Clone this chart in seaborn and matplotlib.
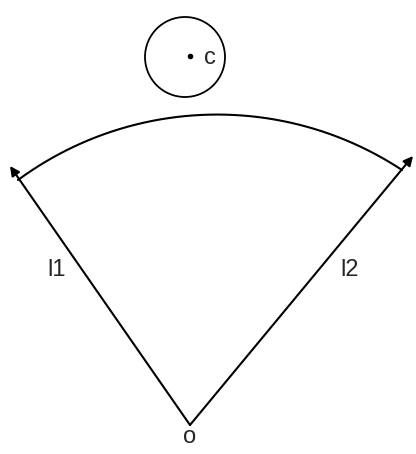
import numpy as np
import pandas as pd
import seaborn as sns
import matplotlib.pyplot as plt
from matplotlib.patches import Circle

sns.set_style("white")
plt.rcParams['font.family'] = ['Liberation Sans', 'DejaVu Sans']

# diagram geometry, in pixel coordinates of the reference
origin = (190, 425)
l1_tip = (10, 166)
l2_tip = (413, 156)
arc_pts = [(18, 180), (200, 115), (402, 170)]
circle_center = (185, 57)
circle_radius = 40
dot = (190, 56)
labels = ["l1", "l2", "o", "c"]
label_pos = [(57, 270), (350, 270), (190, 437), (210, 58)]

# circle through three arc points
(x1, y1), (x2, y2), (x3, y3) = arc_pts
A = np.array([[x2 - x1, y2 - y1], [x3 - x1, y3 - y1]]) * 2
b = np.array([x2**2 - x1**2 + y2**2 - y1**2, x3**2 - x1**2 + y3**2 - y1**2])
cx, cy = np.linalg.solve(A, b)
r = np.hypot(x1 - cx, y1 - cy)
a0 = np.arctan2(y1 - cy, x1 - cx)
a1 = np.arctan2(y3 - cy, x3 - cx)
t = np.linspace(a0, a1, 200)
arc = pd.DataFrame({"x": cx + r * np.cos(t), "y": cy + r * np.sin(t)})

fig = plt.figure(figsize=(4.16, 4.54), dpi=100)
ax = fig.add_axes([0, 0, 1, 1])
sns.lineplot(data=arc, x="x", y="y", sort=False, color="black", lw=1.5, ax=ax)

for tip in (l1_tip, l2_tip):
    ax.annotate("", xy=tip, xytext=origin,
                arrowprops=dict(arrowstyle="-|>", color="black", lw=1.5,
                                mutation_scale=14, shrinkA=0, shrinkB=0))

ax.add_patch(Circle(circle_center, circle_radius, fill=False, ec="black", lw=1.3))
ax.plot(*dot, "o", color="black", ms=3)
for lab, (x, y) in zip(labels, label_pos):
    ax.text(x, y, lab, fontsize=17, ha="center", va="center")

ax.set_xlim(0, 416)
ax.set_ylim(454, 0)
ax.set_axis_off()
fig.savefig("out.png", dpi=100)
